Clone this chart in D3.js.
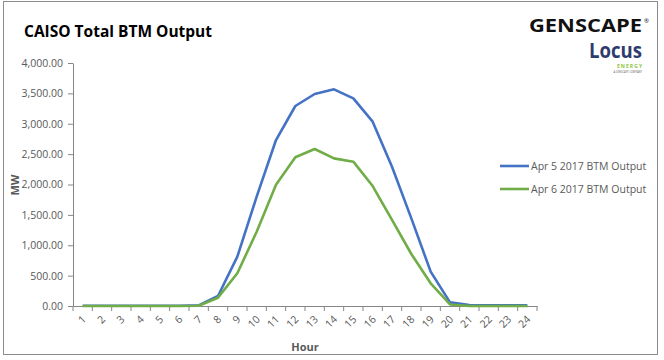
<!DOCTYPE html>
<html>
<head>
<meta charset="utf-8">
<script src="https://cdn.jsdelivr.net/npm/d3@7"></script>
<style>
html,body{margin:0;padding:0;background:#fff;}
svg{display:block;}
</style>
</head>
<body>
<svg id="chart" width="664" height="360"></svg>
<script>
const hours = ["1","2","3","4","5","6","7","8","9","10","11","12","13","14","15","16","17","18","19","20","21","22","23","24"];
const apr5 = [5,5,5,5,5,5,10,165,812,1800,2732,3292,3490,3567,3418,3034,2293,1443,565,60,15,10,10,10];
const apr6 = [0,0,0,0,0,0,5,137,540,1223,1995,2448,2584,2430,2376,1975,1416,856,373,25,0,0,0,0];
const seriesNames = ["Apr 5 2017 BTM Output","Apr 6 2017 BTM Output"];
const seriesColors = ["#4472C4","#70AD47"];
const yTicks = [0,500,1000,1500,2000,2500,3000,3500,4000];

(function(){
const svg = d3.select("#chart");
const font = "'Open Sans', 'Liberation Sans', Arial, sans-serif";

// outer border
svg.append("rect").attr("x",3.5).attr("y",1.5).attr("width",654).attr("height",353)
  .attr("fill","#fff").attr("stroke","#8c8c8c").attr("stroke-width",1);

// title
svg.append("text").attr("x",24).attr("y",37).text("CAISO Total BTM Output")
  .attr("font-family",font).attr("font-weight","bold").attr("font-size",15.5).attr("fill","#000");

const pL = 73, pR = 537, pT = 63, pB = 306;
const x = d3.scaleBand().domain(hours).range([pL,pR]);
const y = d3.scaleLinear().domain([0,4000]).range([pB,pT]);

// y axis
const yAxis = svg.append("g").attr("transform",`translate(${pL},0)`)
  .call(d3.axisLeft(y).tickValues(yTicks).tickSize(5).tickSizeOuter(0)
    .tickFormat(d3.format(",.2f")));
yAxis.select(".domain").attr("stroke","#868686");
yAxis.selectAll(".tick line").attr("stroke","#868686");
yAxis.selectAll(".tick text").attr("font-family",font).attr("font-size",10.5)
  .attr("fill","#595959").attr("x",-10);

// x axis
const xAxis = svg.append("g").attr("transform",`translate(0,${pB})`)
  .call(d3.axisBottom(x).tickSize(0).tickSizeOuter(0));
xAxis.select(".domain").attr("stroke","#868686");
xAxis.selectAll(".tick line").remove();
const bounds = hours.map(h=>x(h)).concat([pR]);
xAxis.selectAll("line.bt").data(bounds).enter().append("line").attr("class","bt")
  .attr("x1",d=>d).attr("x2",d=>d).attr("y1",0).attr("y2",5).attr("stroke","#868686");
xAxis.selectAll(".tick text").attr("font-family",font).attr("font-size",10.5)
  .attr("fill","#595959").attr("text-anchor","end").attr("dy",null).attr("y",0)
  .attr("transform","translate(4,14) rotate(-45)");

// lines
const line = d3.line().x((d,i)=>x(hours[i])+x.bandwidth()/2).y(d=>y(d));
[apr5,apr6].forEach((s,k)=>{
  svg.append("path").datum(s).attr("d",line).attr("fill","none")
    .attr("stroke",seriesColors[k]).attr("stroke-width",2.6).attr("stroke-linejoin","round");
});

// axis titles
svg.append("text").attr("x",305).attr("y",351).attr("text-anchor","middle").text("Hour")
  .attr("font-family",font).attr("font-weight","bold").attr("font-size",11).attr("fill","#595959");
svg.append("text").attr("transform","translate(19,185) rotate(-90)").attr("text-anchor","middle").text("MW")
  .attr("font-family",font).attr("font-weight","bold").attr("font-size",11).attr("fill","#595959");

// legend
seriesNames.forEach((n,k)=>{
  const ly = 166 + k*23;
  svg.append("line").attr("x1",500).attr("x2",529).attr("y1",ly).attr("y2",ly)
    .attr("stroke",seriesColors[k]).attr("stroke-width",2.6);
  svg.append("text").attr("x",531).attr("y",ly+4).text(n)
    .attr("font-family",font).attr("font-size",10.5).attr("fill","#595959");
});

// logo
svg.append("text").attr("x",529).attr("y",32).text("GENSCAPE")
  .attr("font-family",font).attr("font-weight","bold").attr("font-size",17).attr("fill","#111")
  .attr("textLength",113).attr("lengthAdjust","spacingAndGlyphs");
svg.append("text").attr("x",644).attr("y",23).text("®")
  .attr("font-family",font).attr("font-size",6).attr("fill","#111");
svg.append("text").attr("x",589).attr("y",58).text("Locus")
  .attr("font-family",font).attr("font-weight","bold").attr("font-size",21).attr("fill","#2e3b6e")
  .attr("textLength",53).attr("lengthAdjust","spacingAndGlyphs");
svg.append("text").attr("x",642).attr("y",68).attr("text-anchor","end").text("ENERGY")
  .attr("font-family",font).attr("font-weight","bold").attr("font-size",5).attr("fill","#8dc63f")
  .attr("textLength",25).attr("lengthAdjust","spacing");
svg.append("text").attr("x",642).attr("y",73).attr("text-anchor","end").text("A GENSCAPE COMPANY")
  .attr("font-family",font).attr("font-size",2.6).attr("fill","#666");
})();
</script>
</body>
</html>
